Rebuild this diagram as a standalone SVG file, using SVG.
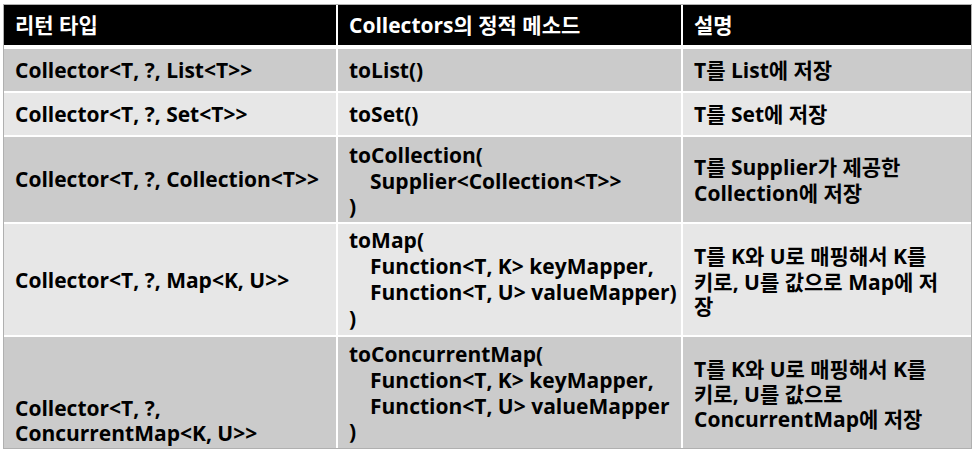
<svg xmlns="http://www.w3.org/2000/svg" width="975" height="452" viewBox="0 0 975 452">
<style>
text{font-family:"Open Sans","Noto Sans CJK KR",sans-serif;font-weight:bold;font-size:21px;fill:#000}
.h text{fill:#fff}
.hd{fill:#000}
.dk{fill:#cbcbcb}
.lt{fill:#e7e7e7}
</style>
<rect x="0" y="0" width="975" height="452" fill="#fff"/>
<rect x="3.5" y="4.5" width="968" height="444" fill="none" stroke="#b0b0b0" stroke-width="1"/>
<g id="header" class="h">
<rect class="hd" x="4" y="5" width="332" height="40"/>
<rect class="hd" x="338" y="5" width="343" height="40"/>
<rect class="hd" x="683" y="5" width="288" height="40"/>
<text x="15" y="33">리턴 타입</text>
<text x="349" y="33">Collectors의 정적 메소드</text>
<text x="694" y="33">설명</text>
</g>
<g id="row1">
<rect class="dk" x="4" y="49" width="332" height="42"/>
<rect class="dk" x="338" y="49" width="343" height="42"/>
<rect class="dk" x="683" y="49" width="288" height="42"/>
<text x="15" y="78">Collector&lt;T, ?, List&lt;T&gt;&gt;</text>
<text x="349" y="78">toList()</text>
<text x="694" y="78">T를 List에 저장</text>
</g>
<g id="row2">
<rect class="lt" x="4" y="93" width="332" height="42"/>
<rect class="lt" x="338" y="93" width="343" height="42"/>
<rect class="lt" x="683" y="93" width="288" height="42"/>
<text x="15" y="122">Collector&lt;T, ?, Set&lt;T&gt;&gt;</text>
<text x="349" y="122">toSet()</text>
<text x="694" y="122">T를 Set에 저장</text>
</g>
<g id="row3">
<rect class="dk" x="4" y="137" width="332" height="85"/>
<rect class="dk" x="338" y="137" width="343" height="85"/>
<rect class="dk" x="683" y="137" width="288" height="85"/>
<text x="15" y="187">Collector&lt;T, ?, Collection&lt;T&gt;&gt;</text>
<text x="349" y="163">toCollection(</text>
<text x="370" y="189">Supplier&lt;Collection&lt;T&gt;&gt;</text>
<text x="349" y="214">)</text>
<text x="694" y="175">T를 Supplier가 제공한</text>
<text x="694" y="201">Collection에 저장</text>
</g>
<g id="row4">
<rect class="lt" x="4" y="224" width="332" height="111"/>
<rect class="lt" x="338" y="224" width="343" height="111"/>
<rect class="lt" x="683" y="224" width="288" height="111"/>
<text x="15" y="288">Collector&lt;T, ?, Map&lt;K, U&gt;&gt;</text>
<text x="349" y="248">toMap(</text>
<text x="370" y="274">Function&lt;T, K&gt; keyMapper,</text>
<text x="370" y="300">Function&lt;T, U&gt; valueMapper)</text>
<text x="349" y="326">)</text>
<text x="694" y="264">T를 K와 U로 매핑해서 K를</text>
<text x="694" y="290">키로, U를 값으로 Map에 저</text>
<text x="694" y="314">장</text>
</g>
<g id="row5">
<rect class="dk" x="4" y="337" width="332" height="111"/>
<rect class="dk" x="338" y="337" width="343" height="111"/>
<rect class="dk" x="683" y="337" width="288" height="111"/>
<text x="15" y="416">Collector&lt;T, ?,</text>
<text x="15" y="441">ConcurrentMap&lt;K, U&gt;&gt;</text>
<text x="349" y="362">toConcurrentMap(</text>
<text x="370" y="388">Function&lt;T, K&gt; keyMapper,</text>
<text x="370" y="414">Function&lt;T, U&gt; valueMapper</text>
<text x="349" y="439">)</text>
<text x="694" y="377">T를 K와 U로 매핑해서 K를</text>
<text x="694" y="402">키로, U를 값으로</text>
<text x="694" y="427">ConcurrentMap에 저장</text>
</g>
</svg>
